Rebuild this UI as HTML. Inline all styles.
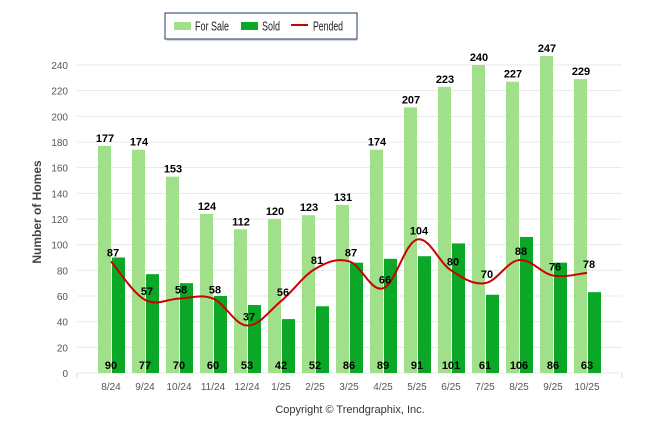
<!DOCTYPE html>
<html><head><meta charset="utf-8"><style>
body{margin:0;background:#fff;}
svg{display:block;font-family:"Liberation Sans",sans-serif;}
</style></head><body>
<svg id="c" width="646" height="434">
<g>
<rect x="167" y="15" width="190" height="26" fill="#bbb" opacity="0.6"/>
<rect x="165" y="13" width="192" height="26" fill="#fff" stroke="#1f3864" stroke-width="1"/>
<rect x="174" y="22" width="17" height="8" fill="#a0e08a"/>
<text x="195" y="30.5" font-size="12.5" textLength="34" lengthAdjust="spacingAndGlyphs" fill="#222">For Sale</text>
<rect x="241" y="22" width="17" height="8" fill="#0aa826"/>
<text x="262" y="30.5" font-size="12.5" textLength="18" lengthAdjust="spacingAndGlyphs" fill="#222">Sold</text>
<line x1="291" y1="25" x2="308" y2="25" stroke="#cc0000" stroke-width="2"/>
<text x="313" y="30.5" font-size="12.5" textLength="30" lengthAdjust="spacingAndGlyphs" fill="#222">Pended</text>
</g>
<text transform="translate(41,212) rotate(-90)" text-anchor="middle" font-size="12" font-weight="bold" fill="#444">Number of Homes</text>
<text x="350" y="413" text-anchor="middle" font-size="11" fill="#333">Copyright © Trendgraphix, Inc.</text>
<g id="grid"></g><g id="bars"></g><g id="line"></g><g id="labels"></g>
</svg>
<script>
const categories=["8/24","9/24","10/24","11/24","12/24","1/25","2/25","3/25","4/25","5/25","6/25","7/25","8/25","9/25","10/25"];
const forSale=[177,174,153,124,112,120,123,131,174,207,223,240,227,247,229];
const sold=[90,77,70,60,53,42,52,86,89,91,101,61,106,86,63];
const pended=[87,57,58,58,37,56,81,87,66,104,80,70,88,76,78];
const yTicks=[0,20,40,60,80,100,120,140,160,180,200,220,240];
const NS="http://www.w3.org/2000/svg";
const y=v=>373-v*(308/240);
const x=i=>111+34*i;
function mk(tag,attrs,parent,txt){const e=document.createElementNS(NS,tag);for(const k in attrs)e.setAttribute(k,attrs[k]);if(txt!==undefined)e.textContent=txt;parent.appendChild(e);return e;}
const G=document.getElementById('grid'),B=document.getElementById('bars'),L=document.getElementById('line'),T=document.getElementById('labels');
yTicks.forEach(v=>{
 const g=mk('line',{x1:77,x2:622,y1:y(v),y2:y(v),stroke:'#e8e8e8','stroke-width':1},G);
 
 
 const t=mk('text',{x:68,y:y(v)+4,'text-anchor':'end','font-size':10,fill:'#555'},G,v);
 
 
});
mk('line',{x1:77,x2:77,y1:373,y2:378,stroke:'#ddd'},G);
mk('line',{x1:622,x2:622,y1:373,y2:378,stroke:'#ddd'},G);
categories.forEach((c,i)=>{
 const cx=x(i);
 const a=mk('rect',{x:cx-13,y:y(forSale[i]),width:13,height:373-y(forSale[i]),fill:'#a0e08a'},B);
 
 
 const b=mk('rect',{x:cx+1,y:y(sold[i]),width:13,height:373-y(sold[i]),fill:'#0aa826'},B);
 
 
 const xl=mk('text',{x:cx,y:390,'text-anchor':'middle','font-size':10,fill:'#555'},T,c);
 
 
 const fl=mk('text',{x:cx-6,y:y(forSale[i])-4,'text-anchor':'middle','font-size':11,'font-weight':'bold',fill:'#000'},T,forSale[i]);
 
 
 const sl=mk('text',{x:cx,y:369,'text-anchor':'middle','font-size':11,'font-weight':'bold',fill:'#000'},T,sold[i]);
 
 
 const pl=mk('text',{x:cx+2,y:y(pended[i])-5,'text-anchor':'middle','font-size':11,'font-weight':'bold',fill:'#000'},T,pended[i]);
 
 
});
const pts=pended.map((v,i)=>[x(i),y(v)]);
let d='M'+pts[0][0]+','+pts[0][1];
for(let i=0;i<pts.length-1;i++){
 const p0=pts[Math.max(0,i-1)],p1=pts[i],p2=pts[i+1],p3=pts[Math.min(pts.length-1,i+2)];
 const t=0.18;
 const c1=[p1[0]+(p2[0]-p0[0])*t,p1[1]+(p2[1]-p0[1])*t];
 const c2=[p2[0]-(p3[0]-p1[0])*t,p2[1]-(p3[1]-p1[1])*t];
 d+=` C${c1[0]},${c1[1]} ${c2[0]},${c2[1]} ${p2[0]},${p2[1]}`;
}
const pl=mk('path',{d:d,fill:'none',stroke:'#cc0000','stroke-width':2},L);


</script>
</body></html>
